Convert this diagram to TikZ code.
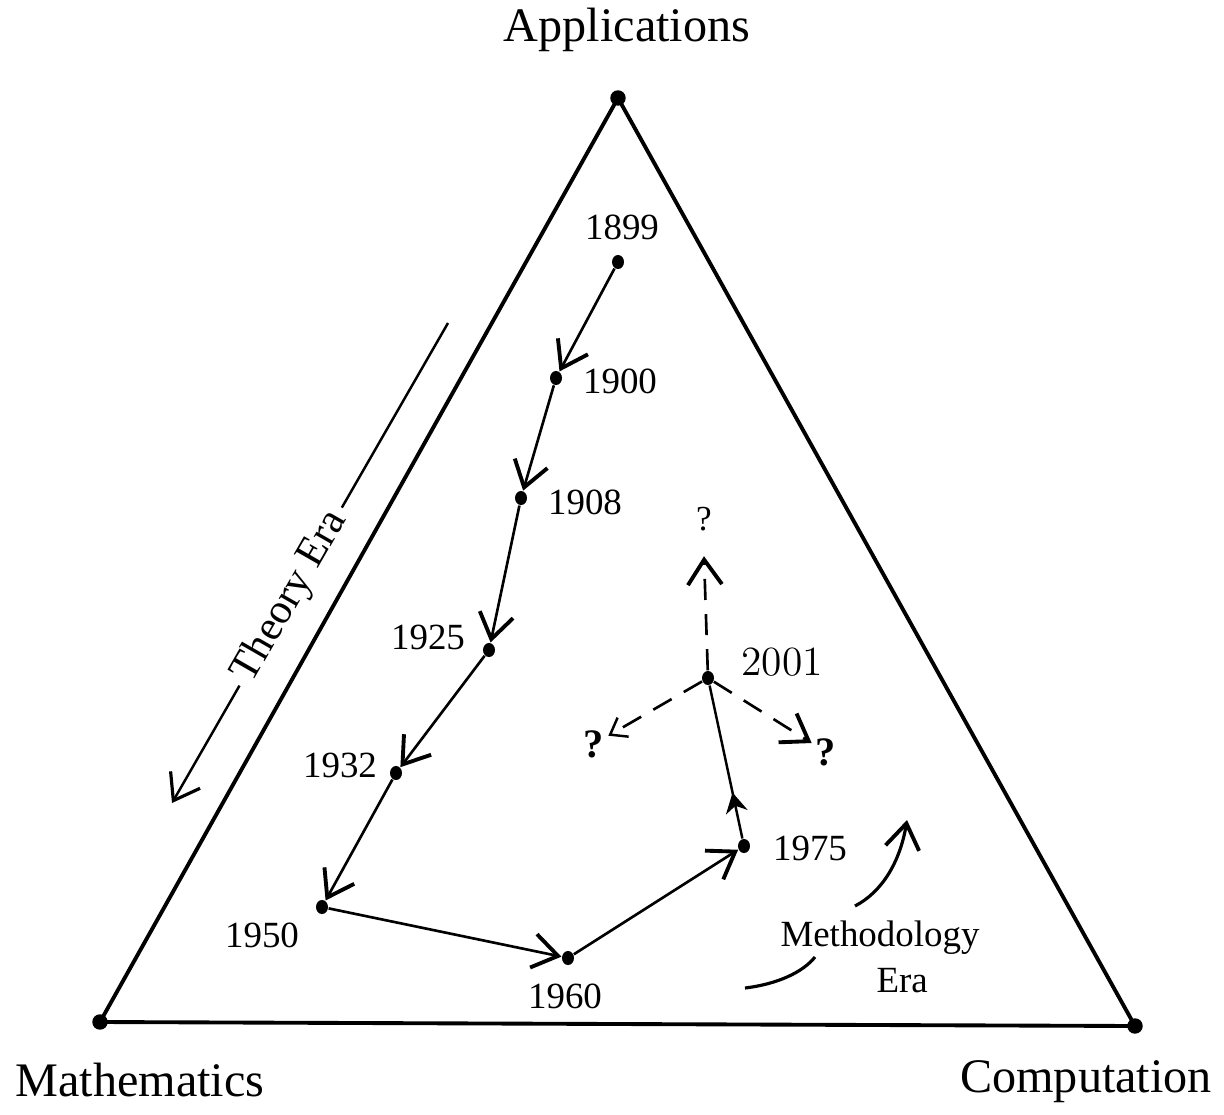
\documentclass[tikz,border=0pt]{standalone}
\usepackage{fontspec}
\setmainfont{Liberation Serif}
\newfontfamily\lmfont{Latin Modern Roman}
\usetikzlibrary{arrows.meta,decorations.markings,shapes.geometric}

\tikzset{
  corner/.style={circle, fill, inner sep=0pt, minimum size=4.4pt},
  yeardot/.style={ellipse, fill, inner sep=0pt, minimum width=3.4pt, minimum height=4pt},
  year/.style={font=\fontsize{10.5}{12}\selectfont, inner sep=1pt},
  vertex/.style={font=\fontsize{13.7}{16}\selectfont, inner sep=0pt},
  trend/.style={line width=0.75pt, -{Straight Barb[length=2.5mm,width=3.4mm,line width=1.1pt]}},
  guess/.style={trend, dash pattern=on 6pt off 4pt},
  qmark/.style={font=\fontsize{11.5}{12}\selectfont\bfseries, inner sep=1pt},
}
\begin{document}
\begin{tikzpicture}[x=0.01cm, y=-0.01cm]
    \useasboundingbox (0,0) rectangle (1224,1115);

    % triangle
    \node[corner] (app) at (618,98) {};
    \node[corner] (math) at (100,1022) {};
    \node[corner] (comp) at (1135,1026) {};
    \draw[line width=1.1pt, line join=round] (app.center)--(math.center)--(comp.center)--cycle;
    \node[vertex] (lapp) at (627,30) {Applications};
    \node[vertex] (lmath) at (140,1080) {Mathematics};
    \node[vertex] (lcomp) at (1086,1082) {Computation};

    % theory era
    \coordinate (te1) at (448,323);
    \coordinate (te2) at (172,803);
    \draw[line width=0.7pt, -{Straight Barb[length=2.4mm,width=3.4mm,line width=0.9pt]}] (te1) -- node[pos=0.57, sloped, fill=white, inner sep=2pt, font=\fontsize{12}{13}\selectfont]{Theory Era} (te2);

    % years
    \foreach \yr/\x/\y in {1899/618/262, 1900/556/378, 1908/521/498, 1925/489/650,
                           1932/396/773, 1950/322/907, 1960/568/958, 1975/744/846, 2001/708/678}
        \node[yeardot] (d\yr) at (\x,\y) {};
    \foreach \yr/\x/\y in {1899/622/227, 1900/620/381, 1908/585/502, 1925/428/637,
                           1932/340/765, 1950/262/935, 1960/565/996, 1975/810/848}
        \node[year] (l\yr) at (\x,\y) {\yr};
    \node[font=\lmfont\fontsize{11.8}{13}\selectfont, inner sep=1pt] (l2001) at (782,662) {2001};

    \foreach \a/\b in {1899/1900, 1900/1908, 1908/1925, 1925/1932, 1932/1950, 1950/1960, 1960/1975}
        \draw[trend] (d\a) -- (d\b);
    \draw[line width=0.7pt, postaction={decorate}, decoration={markings,
          mark=at position 0.3 with {\arrow{Stealth[length=2mm,width=2.2mm]}}}] (d1975) -- (d2001);

    % where next
    \node[font=\fontsize{10}{12}\selectfont, inner sep=1pt] (qup) at (704,519) {?};
    \node[qmark] (qleft) at (594,744) {?};
    \node[qmark] (qright) at (826,752) {?};
    \draw[guess] (d2001) -- ([yshift=-6pt]qup.south);
    \draw[guess, -{Straight Barb[length=1.5mm,width=2.2mm,line width=0.7pt]}] (d2001) -- (qleft);
    \draw[guess] (d2001) -- (qright);

    % methodology era
    \node[font=\fontsize{10.5}{13}\selectfont, align=center, inner sep=1pt] (meth) at (880,957) {Methodology\\ \hspace*{1.2em}Era};
    \coordinate (m1) at (745,988);
    \coordinate (m2) at (815,957);
    \coordinate (m3) at (855,906);
    \coordinate (m4) at (907,820);
    \draw[line width=0.9pt] (m1) .. controls (778,984) and (803,972) .. (m2);
    \draw[trend, line width=0.9pt] (m3) .. controls (882,892) and (900,862) .. (m4);
\end{tikzpicture}
\end{document}
